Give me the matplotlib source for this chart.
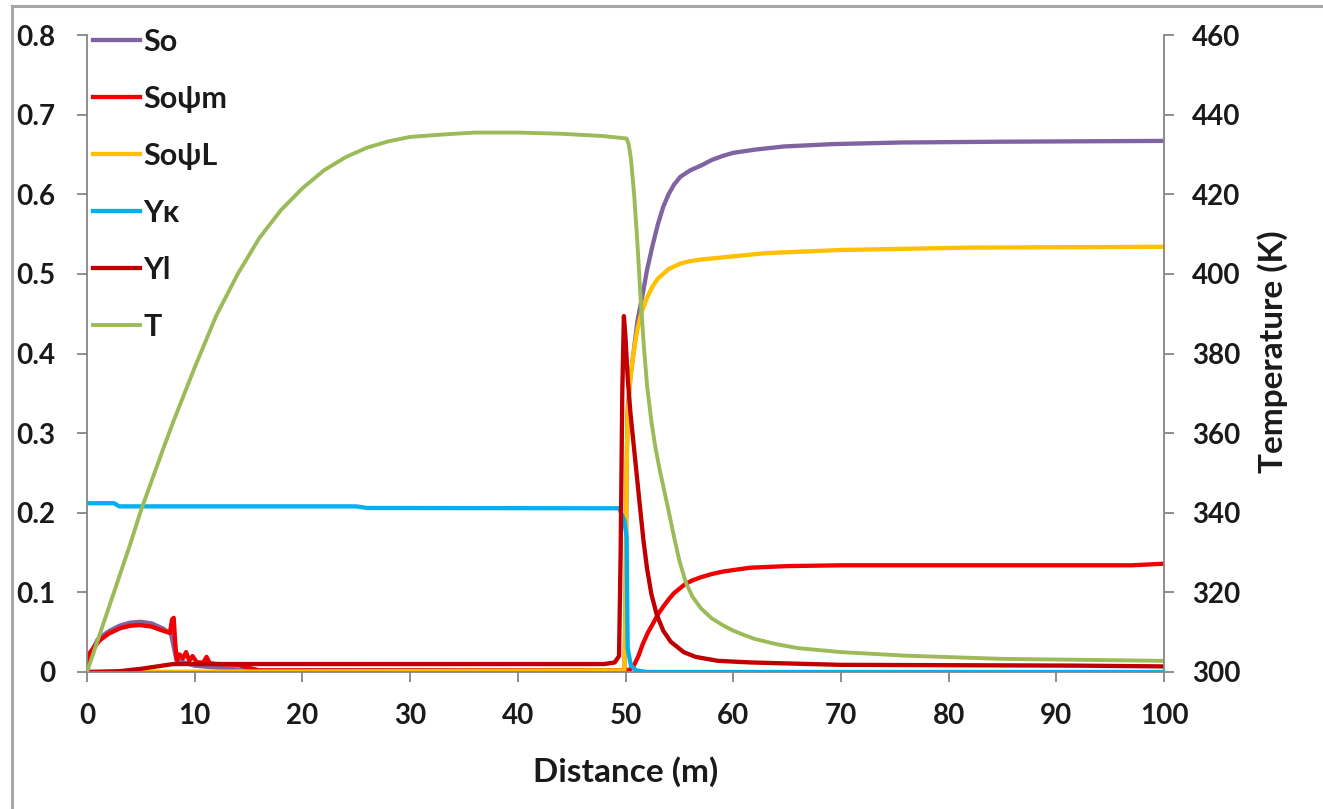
import matplotlib
matplotlib.use('Agg')
import matplotlib.pyplot as plt
from matplotlib.lines import Line2D

plt.rcParams['font.family'] = ['Lato', 'DejaVu Sans']
plt.rcParams['font.weight'] = 'bold'

# ---------------- data ----------------
x_ticks = [0, 10, 20, 30, 40, 50, 60, 70, 80, 90, 100]
left_ticks = [0, 0.1, 0.2, 0.3, 0.4, 0.5, 0.6, 0.7, 0.8]
left_tick_labels = ['0', '0.1', '0.2', '0.3', '0.4', '0.5', '0.6', '0.7', '0.8']
right_ticks = [300, 320, 340, 360, 380, 400, 420, 440, 460]

series_names = ['So', 'So\u03c8m', 'So\u03c8L', 'Y\u03ba', 'Yl', 'T']

dist_so = [0, 1, 2, 3, 4, 5, 6, 7, 7.8, 8.3, 10, 15, 49.9, 50.0, 50.1, 50.2, 50.45,
           50.74, 51.1, 51.67, 52.0, 52.5, 53.0, 53.5, 54.0, 54.5, 55.1, 56, 57, 58, 59,
           60, 62, 64.7, 69.3, 75.6, 85, 100]
so = [0.015, 0.041, 0.051, 0.058, 0.062, 0.063, 0.061, 0.055, 0.048, 0.015, 0.008, 0.002,
      0.002, 0.08, 0.25, 0.33, 0.37, 0.4, 0.44, 0.48, 0.505, 0.535, 0.562, 0.584, 0.6,
      0.612, 0.622, 0.63, 0.636, 0.643, 0.648, 0.652, 0.656, 0.66, 0.663, 0.665, 0.666,
      0.667]

dist_som = [0, 0.3, 1.2, 2, 3.07, 4, 4.9, 6, 6.8, 7.7, 7.9, 8.05, 8.2, 8.35, 8.6, 8.9,
            9.2, 9.5, 9.8, 10.2, 10.8, 11.1, 11.4, 12, 14, 16, 49.9, 50.4, 50.7, 51.2,
            51.6, 52.1, 52.6, 53.0, 53.5, 54.0, 54.5, 55.5, 56.2, 57, 58, 59, 60, 61.6,
            65, 70, 97, 100]
som = [0.006, 0.025, 0.04, 0.048, 0.055, 0.058, 0.059, 0.057, 0.053, 0.049, 0.066, 0.068,
       0.035, 0.015, 0.022, 0.017, 0.025, 0.014, 0.02, 0.012, 0.012, 0.019, 0.011, 0.01,
       0.009, 0.002, 0.002, 0.003, 0.006, 0.02, 0.035, 0.05, 0.062, 0.072, 0.082, 0.091,
       0.099, 0.11, 0.115, 0.119, 0.123, 0.126, 0.128, 0.131, 0.133, 0.134, 0.134, 0.136]

dist_sol = [0, 49.9, 50.0, 50.1, 50.2, 50.45, 50.74, 51.1, 51.5, 52.0, 52.5, 53, 54,
            55.1, 56, 57, 60, 63, 70, 82, 100]
sol = [0.0, 0.002, 0.08, 0.25, 0.325, 0.368, 0.4, 0.43, 0.452, 0.47, 0.484, 0.494, 0.506,
       0.513, 0.516, 0.518, 0.522, 0.526, 0.530, 0.533, 0.534]

dist_yk = [0, 2.5, 3.0, 25, 26, 49.4, 49.9, 50.1, 50.2, 50.5, 51, 52, 100]
yk = [0.212, 0.212, 0.208, 0.208, 0.206, 0.2056, 0.19, 0.17, 0.03, 0.008, 0.002, 0.0, 0.0]

dist_yl = [0, 3, 5, 7, 8, 20, 48, 49.0, 49.4, 49.55, 49.7, 49.85, 50.0, 50.2, 50.46,
           50.8, 51.1, 51.4, 51.67, 52.0, 52.4, 52.9, 53.5, 54.2, 55.4, 56.5, 58.6, 61.6,
           70, 92, 100]
yl = [0.0, 0.001, 0.004, 0.008, 0.01, 0.01, 0.01, 0.012, 0.02, 0.15, 0.35, 0.447, 0.42,
      0.37, 0.325, 0.28, 0.24, 0.2, 0.165, 0.13, 0.098, 0.072, 0.052, 0.038, 0.025, 0.019,
      0.014, 0.012, 0.009, 0.008, 0.007]

dist_T = [0, 1, 2, 3, 4, 5, 6, 7, 8, 10, 12, 14, 16, 18, 20, 22, 24, 26, 28, 30, 33, 36,
          40, 44, 48, 50.1, 50.3, 50.5, 50.8, 51.1, 51.4, 51.7, 52.0, 52.4, 52.8, 53.2,
          53.6, 54.0, 54.5, 55.0, 55.6, 56.2, 57, 58, 59, 60, 61, 62, 64, 66, 70, 76, 85,
          100]
temp = [300, 308, 316, 324, 332, 340.5, 348, 355.5, 362.8, 376.5, 389.5, 400, 409, 416,
        421.5, 426, 429.3, 431.7, 433.3, 434.4, 435, 435.5, 435.5, 435.2, 434.6, 434,
        432.5, 429, 420, 408, 394, 382, 372, 363, 356, 350.5, 345.5, 340.5, 334, 328,
        322.5, 319, 316, 313.5, 311.8, 310.4, 309.3, 308.3, 307, 306, 305, 304.1, 303.3,
        302.8]

colors = ['#8064A2', '#F00000', '#FFC000', '#00B0F0', '#C00000', '#9BBB59']

# ---------------- figure ----------------
W, H = 1323, 809
fig = plt.figure(figsize=(W / 100, H / 100), dpi=100)
fig.patch.set_facecolor('white')
ax = fig.add_axes([87 / W, 1 - 672 / H, (1164 - 87) / W, (672 - 35) / H])
ax2 = ax.twinx()

lw = 3.1
l1, = ax.plot(dist_so, so, color=colors[0], lw=lw, solid_joinstyle='round')
l2, = ax.plot(dist_som, som, color=colors[1], lw=lw, solid_joinstyle='round')
l3, = ax.plot(dist_sol, sol, color=colors[2], lw=lw, solid_joinstyle='round')
l4, = ax.plot(dist_yk, yk, color=colors[3], lw=lw, solid_joinstyle='round')
l5, = ax.plot(dist_yl, yl, color=colors[4], lw=lw, solid_joinstyle='round')
l6, = ax2.plot(dist_T, temp, color=colors[5], lw=2.8, solid_joinstyle='round')

ax.set_xlim(0, 100)
ax.set_ylim(0, 0.8)
ax2.set_ylim(300, 460)

spine_col = '#868686'
tick_fs = 20
for a in (ax, ax2):
    a.spines['top'].set_visible(False)
    for s in a.spines.values():
        s.set_color(spine_col)
        s.set_linewidth(1.3)
ax.spines['right'].set_visible(False)
ax2.spines['left'].set_visible(False)
ax2.spines['bottom'].set_visible(False)

ax.set_xticks(x_ticks)
ax.set_xticklabels([str(v) for v in x_ticks])
ax.set_yticks(left_ticks)
ax.set_yticklabels(left_tick_labels)
ax2.set_yticks(right_ticks)
ax2.set_yticklabels([str(v) for v in right_ticks])

ax.tick_params(axis='y', direction='out', length=7, width=1.3, color=spine_col,
               labelsize=tick_fs, pad=16, labelcolor='#1a1a1a')
ax.tick_params(axis='x', direction='out', length=7, width=1.3, color=spine_col,
               labelsize=tick_fs, pad=15, labelcolor='#1a1a1a')
ax2.tick_params(axis='y', direction='out', length=7, width=1.3, color=spine_col,
                labelsize=tick_fs, pad=13, labelcolor='#1a1a1a')

ax.set_xlabel('Distance (m)', fontsize=24, fontweight='bold', color='#1a1a1a')
ax.xaxis.set_label_coords(0.5, (672 - 772) / 637, transform=ax.transAxes)
ax.xaxis.label.set_va('center')
ax2.set_ylabel('Temperature (K)', fontsize=24, fontweight='bold', color='#1a1a1a')
ax2.yaxis.set_label_coords((1273 - 87) / 1077, (672 - 352) / 637)
ax2.yaxis.label.set_va('center')

leg = fig.legend([l1, l2, l3, l4, l5, l6], series_names,
                 loc='upper left', bbox_to_anchor=(93 / W, 1 - 28 / H),
                 bbox_transform=fig.transFigure, frameon=False, fontsize=22,
                 handlelength=1.54, handletextpad=0.1, labelspacing=0.95,
                 borderpad=0, borderaxespad=0)
for t in leg.get_texts():
    t.set_fontweight('bold')
    t.set_color('#1a1a1a')

# outer frame of the picture (top and left edges are visible)
border_col = '#a6a6a6'
fig.add_artist(Line2D([12 / W, 1.0], [1 - 6 / H, 1 - 6 / H], transform=fig.transFigure,
                      color=border_col, lw=2.2))
fig.add_artist(Line2D([12 / W, 12 / W], [0.0, 1 - 6 / H], transform=fig.transFigure,
                      color=border_col, lw=2.2))

fig.savefig('out.png', dpi=100, facecolor='white')
